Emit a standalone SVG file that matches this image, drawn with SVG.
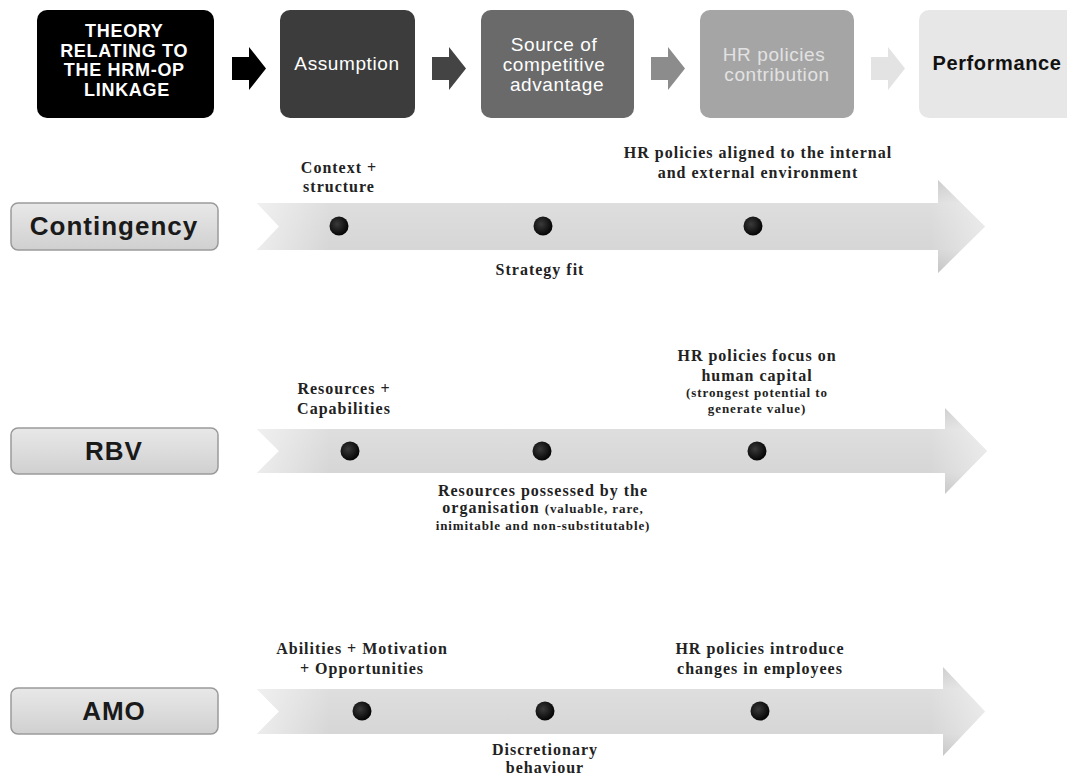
<svg xmlns="http://www.w3.org/2000/svg" width="1067" height="780" viewBox="0 0 1067 780">
<defs>
<linearGradient id="band" x1="0" y1="0" x2="0" y2="1">
<stop offset="0" stop-color="#c9c9c9"/>
<stop offset="0.25" stop-color="#dedede"/>
<stop offset="0.75" stop-color="#d6d6d6"/>
<stop offset="1" stop-color="#c1c1c1"/>
</linearGradient>
<linearGradient id="fadeL" gradientUnits="userSpaceOnUse" x1="257" y1="0" x2="330" y2="0">
<stop offset="0" stop-color="#fff" stop-opacity="0.55"/>
<stop offset="1" stop-color="#fff" stop-opacity="0"/>
</linearGradient>
<linearGradient id="fadeR" gradientUnits="userSpaceOnUse" x1="930" y1="0" x2="987" y2="0">
<stop offset="0" stop-color="#fff" stop-opacity="0"/>
<stop offset="1" stop-color="#fff" stop-opacity="0.45"/>
</linearGradient>
<linearGradient id="lbl" x1="0" y1="0" x2="0" y2="1">
<stop offset="0" stop-color="#e8e8e8"/>
<stop offset="1" stop-color="#d0d0d0"/>
</linearGradient>
<radialGradient id="dot" cx="0.4" cy="0.4" r="0.6">
<stop offset="0" stop-color="#3a3a3a"/>
<stop offset="1" stop-color="#050505"/>
</radialGradient>
<style>
.hdr{font-family:"Liberation Sans",Arial,sans-serif;font-size:19px;text-anchor:middle;letter-spacing:0.6px}
.lbl{font-family:"Liberation Sans",Arial,sans-serif;font-size:26px;font-weight:bold;text-anchor:middle;fill:#1a1a1a;letter-spacing:1px}
.t{font-family:"Liberation Serif","Times New Roman",serif;font-size:16px;font-weight:bold;text-anchor:middle;fill:#222;letter-spacing:1px}
.s{font-size:13px;letter-spacing:0.9px}
.lb{fill:url(#lbl);stroke:#9a9a9a;stroke-width:1.5}
.band{fill:url(#band)}
.fl{fill:url(#fadeL)}
.fr{fill:url(#fadeR)}
.dot{fill:url(#dot)}
</style>
</defs>
<rect width="1067" height="780" fill="#ffffff"/>

<g id="theory">
<rect x="37" y="10" width="177" height="108" rx="10" fill="#000"/>
<text class="hdr" fill="#fff" font-weight="bold" style="font-size:18px;letter-spacing:0.7px">
<tspan x="127" y="37">THEORY</tspan>
<tspan x="127" y="56.5">RELATING TO</tspan>
<tspan x="127" y="76">THE HRM-OP</tspan>
<tspan x="127" y="95.5">LINKAGE</tspan>
</text>
</g>
<g id="assumption">
<rect x="280" y="10" width="135" height="108" rx="10" fill="#3c3c3c"/>
<text class="hdr" fill="#fff" x="347" y="70">Assumption</text>
</g>
<g id="source">
<rect x="481" y="10" width="153" height="108" rx="10" fill="#6a6a6a"/>
<text class="hdr" fill="#fff">
<tspan x="557" y="51">Source of</tspan>
<tspan x="557" y="71">competitive</tspan>
<tspan x="557" y="91">advantage</tspan>
</text>
</g>
<g id="hrcontrib">
<rect x="700" y="10" width="154" height="108" rx="10" fill="#a5a5a5"/>
<text class="hdr" fill="#e2e2e2">
<tspan x="777" y="61">HR policies</tspan>
<tspan x="777" y="81">contribution</tspan>
</text>
</g>
<g id="performance">
<rect x="919" y="10" width="160" height="108" rx="10" fill="#e7e7e7"/>
<text class="hdr" fill="#111" font-weight="bold" style="font-size:20px" x="997" y="70">Performance</text>
</g>

<g id="connectors">
<path d="M232,57 H249 V47 L266,68.5 L249,90 V80 H232 Z" fill="#000"/>
<path d="M432,57 H449 V47 L466,68.5 L449,90 V80 H432 Z" fill="#444"/>
<path d="M651,57 H668 V47 L685,68.5 L668,90 V80 H651 Z" fill="#8c8c8c"/>
<path d="M871,57 H888 V47 L905,68.5 L888,90 V80 H871 Z" fill="#e3e3e3"/>
</g>

<g id="contingency">
<rect class="lb" x="11" y="203" width="207" height="47" rx="7"/>
<text class="lbl" x="114" y="235">Contingency</text>
<path class="band" d="M257,203 L938,203 L938,180 L985,226.5 L938,273 L938,250 L257,250 L279,226.5 Z"/>
<path class="fl" d="M257,203 L330,203 L330,250 L257,250 L279,226.5 Z"/>
<path class="fr" d="M930,203 L938,203 L938,180 L985,226.5 L938,273 L938,250 L930,250 Z"/>
<circle class="dot" cx="339" cy="226" r="9.5"/>
<circle class="dot" cx="543" cy="226" r="9.5"/>
<circle class="dot" cx="753" cy="226" r="9.5"/>
<text class="t"><tspan x="339" y="173">Context +</tspan><tspan x="339" y="192">structure</tspan></text>
<text class="t"><tspan x="758" y="158">HR policies aligned  to the internal</tspan><tspan x="758" y="178">and  external environment</tspan></text>
<text class="t" x="540" y="275">Strategy fit</text>
</g>

<g id="rbv">
<rect class="lb" x="11" y="428" width="207" height="46" rx="7"/>
<text class="lbl" x="114" y="460">RBV</text>
<path class="band" d="M257,429 L945,429 L945,408 L987,451 L945,494 L945,473 L257,473 L279,451 Z"/>
<path class="fl" d="M257,429 L330,429 L330,473 L257,473 L279,451 Z"/>
<path class="fr" d="M930,429 L945,429 L945,408 L987,451 L945,494 L945,473 L930,473 Z"/>
<circle class="dot" cx="350" cy="451" r="9.5"/>
<circle class="dot" cx="542" cy="451" r="9.5"/>
<circle class="dot" cx="757" cy="451" r="9.5"/>
<text class="t"><tspan x="344" y="394">Resources +</tspan><tspan x="344" y="414">Capabilities</tspan></text>
<text class="t"><tspan x="757" y="361">HR policies focus on</tspan><tspan x="757" y="381">human  capital</tspan><tspan class="s" x="757" y="397">(strongest potential to</tspan><tspan class="s" x="757" y="413">generate value)</tspan></text>
<text class="t"><tspan x="543" y="496">Resources possessed by  the</tspan><tspan x="543" y="513">organisation  <tspan class="s">(valuable, rare,</tspan></tspan><tspan class="s" x="543" y="530">inimitable and non-substitutable)</tspan></text>
</g>

<g id="amo">
<rect class="lb" x="11" y="688" width="207" height="46" rx="7"/>
<text class="lbl" x="114" y="720">AMO</text>
<path class="band" d="M257,689 L943,689 L943,667 L985,711.5 L943,756 L943,734 L257,734 L279,711.5 Z"/>
<path class="fl" d="M257,689 L330,689 L330,734 L257,734 L279,711.5 Z"/>
<path class="fr" d="M930,689 L943,689 L943,667 L985,711.5 L943,756 L943,734 L930,734 Z"/>
<circle class="dot" cx="362" cy="711" r="9.5"/>
<circle class="dot" cx="545" cy="711" r="9.5"/>
<circle class="dot" cx="760" cy="711" r="9.5"/>
<text class="t"><tspan x="362" y="654">Abilities + Motivation</tspan><tspan x="362" y="674">+ Opportunities</tspan></text>
<text class="t"><tspan x="760" y="654">HR policies introduce</tspan><tspan x="760" y="674">changes in  employees</tspan></text>
<text class="t"><tspan x="545" y="755">Discretionary</tspan><tspan x="545" y="773">behaviour</tspan></text>
</g>
</svg>
